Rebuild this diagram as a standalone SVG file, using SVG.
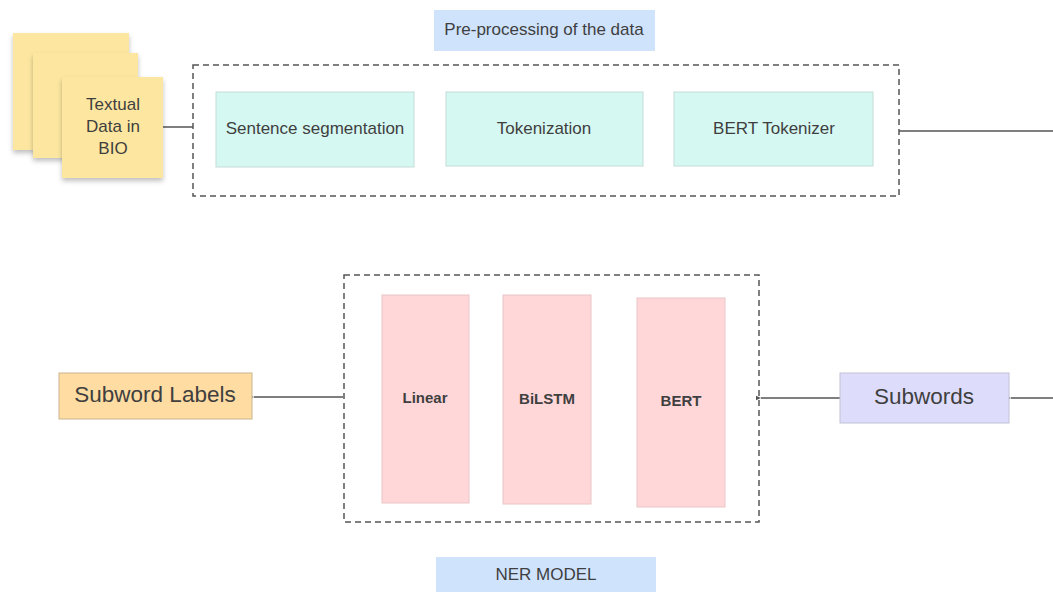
<svg xmlns="http://www.w3.org/2000/svg" width="1053" height="592" viewBox="0 0 1053 592">
<style>
text{font-family:"Liberation Sans",Arial,sans-serif;fill:#3f3f3f;text-anchor:middle;dominant-baseline:central}
.dash{fill:none;stroke:#555;stroke-width:1.5;stroke-dasharray:6 4}
.teal{fill:#d6f8f2;stroke:#c4dcd8;stroke-width:1}
.pink{fill:#ffd7d9;stroke:#e9c4c6;stroke-width:1}
.lbl{fill:#cfe3fd}
.note{fill:#fde7a0}
.conn{stroke:#555;stroke-width:1.5;fill:none}
.t16{font-size:17px}
.b13{font-size:15px;font-weight:bold}
.t20{font-size:22.5px}
</style>
<defs>
<filter id="sh" x="-20%" y="-20%" width="140%" height="150%">
<feDropShadow dx="0" dy="3" stdDeviation="2.5" flood-color="#000" flood-opacity="0.25"/>
</filter>
<marker id="ah" markerWidth="6" markerHeight="6" refX="1" refY="3" orient="auto-start-reverse" markerUnits="userSpaceOnUse">
<path d="M6,0.8 L1,3 L6,5.2 Z" fill="#555"/>
</marker>
</defs>
<rect width="1053" height="592" fill="#fff"/>

<g id="connectors">
<line class="conn" x1="163" y1="127" x2="193" y2="127"/>
<line class="conn" x1="899" y1="131" x2="1053" y2="131"/>
<line class="conn" x1="343" y1="397" x2="254" y2="397" marker-end="url(#ah)"/>
<line class="conn" x1="840" y1="398" x2="761" y2="398" marker-end="url(#ah)"/>
<line class="conn" x1="1053" y1="398" x2="1011" y2="398" marker-end="url(#ah)"/>
</g>

<g id="preprocessing-label">
<rect class="lbl" x="434" y="10" width="221" height="41"/>
<text x="544" y="29" style="font-size:17px">Pre-processing of the data</text>
</g>

<g id="preprocessing-group">
<rect class="dash" x="193" y="65" width="706" height="131"/>
</g>

<g id="textual-data">
<rect class="note" x="13" y="33" width="116" height="117" filter="url(#sh)"/>
<rect class="note" x="33" y="53" width="105" height="105" filter="url(#sh)"/>
<rect class="note" x="62" y="77" width="101" height="101" filter="url(#sh)"/>
<text class="t16" x="113" y="104">Textual</text>
<text class="t16" x="113" y="126">Data in</text>
<text class="t16" x="113" y="148">BIO</text>
</g>

<g id="sentence-segmentation">
<rect class="teal" x="216" y="92" width="198" height="75"/>
<text class="t16" x="315" y="128">Sentence segmentation</text>
</g>

<g id="tokenization">
<rect class="teal" x="446" y="92" width="197" height="74"/>
<text class="t16" x="544" y="128">Tokenization</text>
</g>

<g id="bert-tokenizer">
<rect class="teal" x="674" y="92" width="199" height="74"/>
<text class="t16" x="774" y="128">BERT Tokenizer</text>
</g>

<g id="ner-group">
<rect class="dash" x="344" y="275" width="415" height="247"/>
</g>

<g id="linear">
<rect class="pink" x="382" y="295" width="87" height="208"/>
<text class="b13" x="425" y="397">Linear</text>
</g>

<g id="bilstm">
<rect class="pink" x="503" y="295" width="88" height="209"/>
<text class="b13" x="547" y="398">BiLSTM</text>
</g>

<g id="bert">
<rect class="pink" x="637" y="298" width="88" height="209"/>
<text class="b13" x="681" y="400">BERT</text>
</g>

<g id="ner-label">
<rect class="lbl" x="436" y="557" width="220" height="35"/>
<text x="546" y="574" style="font-size:17px">NER MODEL</text>
</g>

<g id="subword-labels">
<rect x="59" y="373" width="193" height="46" fill="#fedca2" stroke="#c9b48f" stroke-width="1"/>
<text class="t20" x="155" y="394">Subword Labels</text>
</g>

<g id="subwords">
<rect x="840" y="373" width="169" height="50" fill="#dddcfb" stroke="#c2c2d6" stroke-width="1"/>
<text class="t20" x="924" y="396">Subwords</text>
</g>
</svg>
